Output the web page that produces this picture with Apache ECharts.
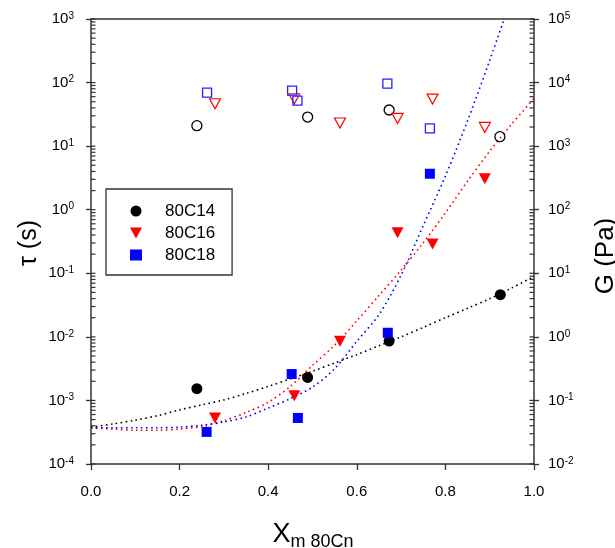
<!DOCTYPE html>
<html><head><meta charset="utf-8">
<script src="https://cdn.jsdelivr.net/npm/echarts@6/dist/echarts.min.js"></script>
<style>html,body{margin:0;padding:0;background:#fff}#c{width:615px;height:548px}</style>
</head><body><div id="c"></div>
<script>
// ---- data ----
const xTicks = [0.0, 0.2, 0.4, 0.6, 0.8, 1.0];
// dotted fit curves (tau, s) sampled along x
const fitX   = [0,0.05,0.1,0.15,0.2,0.25,0.3,0.35,0.4,0.45,0.5,0.55,0.6,0.65,0.7,0.75,0.8,0.85,0.9,0.95,1.0];
const fit14  = [3.8e-4,4.27e-4,4.9e-4,5.75e-4,7.1e-4,8.5e-4,1.02e-3,1.29e-3,1.66e-3,2.19e-3,2.88e-3,3.89e-3,5.25e-3,7.24e-3,0.0100,0.0141,0.0200,0.0282,0.0398,0.0589,0.0891];
const fit16  = [3.72e-4,3.55e-4,3.39e-4,3.39e-4,3.55e-4,3.89e-4,4.79e-4,6.46e-4,9.33e-4,1.66e-3,3.55e-3,7.41e-3,0.0178,0.0447,0.112,0.302,0.891,2.82,8.32,22.4,56.2];
const fit18  = [3.72e-4,3.72e-4,3.72e-4,3.72e-4,3.8e-4,4.07e-4,4.57e-4,5.5e-4,7.59e-4,1.07e-3,1.62e-3,3.16e-3,8.51e-3,0.0224,0.0933,0.562,3.39,25.1,224,2240];
// filled markers: tau (s), left axis
const tau14X = [0.239, 0.489, 0.673, 0.924];
const tau14  = [1.53e-3, 2.30e-3, 8.6e-3, 0.046];
const tau16X = [0.280, 0.459, 0.562, 0.692, 0.771, 0.889];
const tau16  = [5.3e-4, 1.19e-3, 8.5e-3, 0.435, 0.29, 3.07];
const tau18X = [0.261, 0.453, 0.467, 0.670, 0.765];
const tau18  = [3.2e-4, 2.6e-3, 5.3e-4, 0.0116, 3.68];
// open markers: G (Pa), right axis
const g14X = [0.239, 0.489, 0.673, 0.923];
const g14  = [2100, 2870, 3700, 1410];
const g16X = [0.280, 0.459, 0.562, 0.692, 0.771, 0.889];
const g16  = [4650, 5570, 2310, 2730, 5500, 1970];
const g18X = [0.262, 0.454, 0.466, 0.669, 0.765];
const g18  = [6930, 7450, 5190, 9600, 1900];
const names = ['80C14', '80C16', '80C18'];

// ---- chart ----
const FONT = '"Liberation Sans", Arial, Helvetica, sans-serif';
const AXC = '#333';
const zip = (xs, ys) => ys.map((y, i) => [xs[i], y]);
const supFmt = v => { const e = Math.round(Math.log10(v)); return '10{s|' + e + '}'; };
const supRich = { s: { fontSize: 10, fontFamily: FONT, color: '#000', padding: [0, 0, 6, 0] } };
const downTri = 'path://M0,0L12,0L6,11Z';

const chart = echarts.init(document.getElementById('c'), null, { renderer: 'canvas' });
const dotted = (c) => ({ color: c, width: 1.6, type: [1.6, 3.4] });

chart.setOption({
  animation: false,
  backgroundColor: '#fff',
  textStyle: { fontFamily: FONT },
  grid: { left: 91, right: 81, top: 19, bottom: 84 },
  legend: {
    data: [{ name: names[0], icon: 'circle' }, { name: names[1], icon: downTri }, { name: names[2], icon: 'rect' }],
    orient: 'vertical', left: 106, top: 189,
    padding: [12, 17, 10, 24], itemWidth: 12, itemHeight: 11, itemGap: 2,
    borderColor: AXC, borderWidth: 1.3, backgroundColor: '#fff',
    textStyle: { fontSize: 17, color: '#000', fontFamily: FONT, lineHeight: 20, padding: [0, 0, 0, 18] }
  },
  xAxis: [{
    type: 'value', min: 0, max: 1, interval: 0.2,
    axisLine: { show: true, onZero: false, lineStyle: { color: AXC, width: 1.5 } },
    axisTick: { show: true, length: 6, lineStyle: { color: AXC, width: 1.3 } },
    axisLabel: { fontSize: 15, color: '#000', margin: 20, formatter: v => v.toFixed(1) },
    splitLine: { show: false }
  }, {
    type: 'value', min: 0, max: 1, position: 'top',
    axisLine: { show: true, onZero: false, lineStyle: { color: AXC, width: 1.5 } },
    axisTick: { show: false }, axisLabel: { show: false }, splitLine: { show: false }
  }],
  yAxis: [{
    type: 'log', logBase: 10, min: 1e-4, max: 1e3, position: 'left',
    axisLine: { show: true, onZero: false, lineStyle: { color: AXC, width: 1.5 } },
    axisTick: { show: true, length: 5, lineStyle: { color: AXC, width: 1.3 } },
    axisLabel: { fontSize: 15, color: '#000', margin: 17, formatter: supFmt, rich: supRich },
    splitLine: { show: false }
  }, {
    type: 'log', logBase: 10, min: 1e-2, max: 1e5, position: 'right',
    axisLine: { show: true, onZero: false, lineStyle: { color: AXC, width: 1.5 } },
    axisTick: { show: true, length: 5, lineStyle: { color: AXC, width: 1.3 } },
    axisLabel: { fontSize: 15, color: '#000', margin: 14, formatter: supFmt, rich: supRich },
    splitLine: { show: false }
  }],
  series: [
    { name: 'fit14', type: 'line', data: zip(fitX, fit14), showSymbol: false, smooth: 0.3, lineStyle: dotted('#000'), z: 1, silent: true },
    { name: 'fit16', type: 'line', data: zip(fitX, fit16), showSymbol: false, smooth: 0.3, lineStyle: dotted('#ff0000'), z: 1, silent: true },
    { name: 'fit18', type: 'line', data: zip(fitX, fit18), showSymbol: false, smooth: 0.3, lineStyle: dotted('#0000ff'), z: 1, silent: true },
    { name: 'G 80C14', type: 'scatter', yAxisIndex: 1, data: zip(g14X, g14), symbol: 'circle', symbolSize: 10,
      itemStyle: { color: 'rgba(0,0,0,0)', borderColor: '#000', borderWidth: 1.3, opacity: 1 }, z: 3 },
    { name: 'G 80C16', type: 'scatter', yAxisIndex: 1, data: zip(g16X, g16), symbol: 'triangle', symbolRotate: 180, symbolSize: [11, 10],
      itemStyle: { color: 'rgba(0,0,0,0)', borderColor: '#ff0000', borderWidth: 1.2, opacity: 1 }, z: 3 },
    { name: 'G 80C18', type: 'scatter', yAxisIndex: 1, data: zip(g18X, g18), symbol: 'rect', symbolSize: 9,
      itemStyle: { color: 'rgba(0,0,0,0)', borderColor: '#2222ff', borderWidth: 1.3, opacity: 1 }, z: 3 },
    { name: names[0], type: 'scatter', data: zip(tau14X, tau14), symbol: 'circle', symbolSize: 11, itemStyle: { color: '#000', opacity: 1 }, z: 4 },
    { name: names[1], type: 'scatter', data: zip(tau16X, tau16), symbol: 'triangle', symbolRotate: 180, symbolSize: [12, 11], itemStyle: { color: '#ff0000', opacity: 1 }, z: 4 },
    { name: names[2], type: 'scatter', data: zip(tau18X, tau18), symbol: 'rect', symbolSize: 10, itemStyle: { color: '#0000ff', opacity: 1 }, z: 4 }
  ]
});

// inside major/minor log ticks (positions from the library's scales)
const els = [];
function yTicks(axisIndex, nFrom, nTo, side) {
  const xLeft = chart.convertToPixel({ xAxisIndex: 0 }, 0);
  const xRight = chart.convertToPixel({ xAxisIndex: 0 }, 1);
  const x0 = side < 0 ? xLeft : xRight;
  for (let n = nFrom; n <= nTo; n++) {
    for (let k = 1; k <= 9; k++) {
      if (n === nTo && k > 1) break;
      const y = chart.convertToPixel({ yAxisIndex: axisIndex }, k * Math.pow(10, n));
      els.push({ type: 'line', silent: true, z: 5,
        shape: { x1: x0, y1: y, x2: x0 - side * 4.5, y2: y },
        style: { stroke: AXC, lineWidth: 1.2 } });
    }
  }
}
yTicks(0, -4, 3, -1);
yTicks(1, -2, 5, 1);

els.push({ type: 'text', x: 29, y: 243, rotation: Math.PI / 2, silent: true,
  style: { text: 'τ (s)', fontSize: 25, fontFamily: FONT, fill: '#000', align: 'center', verticalAlign: 'middle' } });
els.push({ type: 'text', x: 606, y: 256, rotation: Math.PI / 2, silent: true,
  style: { text: 'G (Pa)', fontSize: 26, fontFamily: FONT, fill: '#000', align: 'center', verticalAlign: 'middle' } });
els.push({ type: 'text', x: 313, y: 535, silent: true,
  style: { text: 'X{s|m 80Cn}', fontSize: 27, fontFamily: FONT, fill: '#000', align: 'center', verticalAlign: 'middle',
    rich: { s: { fontSize: 18, fontFamily: FONT, fill: '#000', padding: [14, 0, 0, 0] } } } });
chart.setOption({ graphic: els });
</script>
</body></html>
